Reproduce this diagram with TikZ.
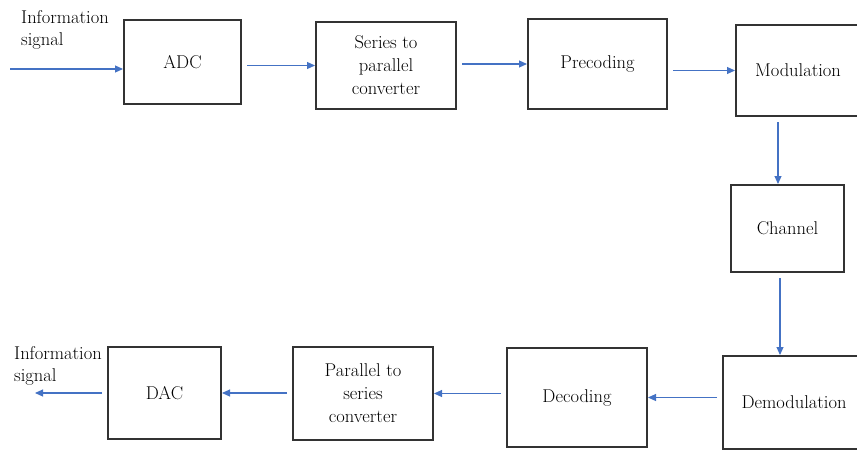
\documentclass[tikz,border=0pt]{standalone}
\usetikzlibrary{arrows.meta}

\definecolor{linkblue}{RGB}{68,114,196}

\begin{document}
\begin{tikzpicture}[x=1pt, y=-1pt,
    block/.style={draw=black!80, line width=2pt, align=center, inner sep=2pt,
        font=\fontsize{18.5}{23}\selectfont},
    flow/.style={draw=linkblue, line width=1.1pt, shorten <=5pt,
        -{Triangle[length=8pt,width=7pt]}},
    sigtext/.style={align=left, inner sep=0pt, font=\fontsize{18.5}{22}\selectfont}]
    \useasboundingbox (0,0) rectangle (857,450);

    % Blocks
    \foreach \name/\pos/\w/\h/\txt in {
        adc/{182.5,62}/117/84/ADC,
        s2p/{386,65.5}/140/87/{Series to\\parallel\\converter},
        prec/{597.5,64}/139/90/Precoding,
        mod/{798,70.5}/124/91/Modulation,
        chan/{787.5,228.5}/113/87/Channel,
        demod/{794,402.5}/142/93/Demodulation,
        dec/{577,397.5}/140/99/Decoding,
        p2s/{363,393.5}/140/93/{Parallel to\\series\\converter},
        dac/{164.5,393}/113/92/DAC}
        \node[block, minimum width=\w pt, minimum height=\h pt] (\name) at (\pos) {\txt};

    \coordinate (in) at (10,69);
    \coordinate (out) at (35,393);

    % Labeling
    \node[sigtext, anchor=north west] (infoin) at (21,10) {Information\\signal};
    \node[sigtext, anchor=north west] (infoout) at (14,346) {Information\\signal};

    % Draw
    \draw[flow, shorten <=0pt] (in) -- (in -| adc.west);
    \foreach \a/\b in {adc/s2p, s2p/prec, prec/mod}
        \draw[flow] (\a.east |- \b.west) -- (\b.west);
    \draw[flow] ([xshift=-20pt]mod.south) -- ([xshift=-20pt]mod.south |- chan.north);
    \draw[flow] ([xshift=-7.5pt]chan.south) -- ([xshift=-7.5pt]chan.south |- demod.north);
    \foreach \a/\b in {demod/dec, dec/p2s, p2s/dac}
        \draw[flow] (\a.west |- \b.east) -- (\b.east);
    \draw[flow] (dac.west) -- (out);
\end{tikzpicture}
\end{document}
